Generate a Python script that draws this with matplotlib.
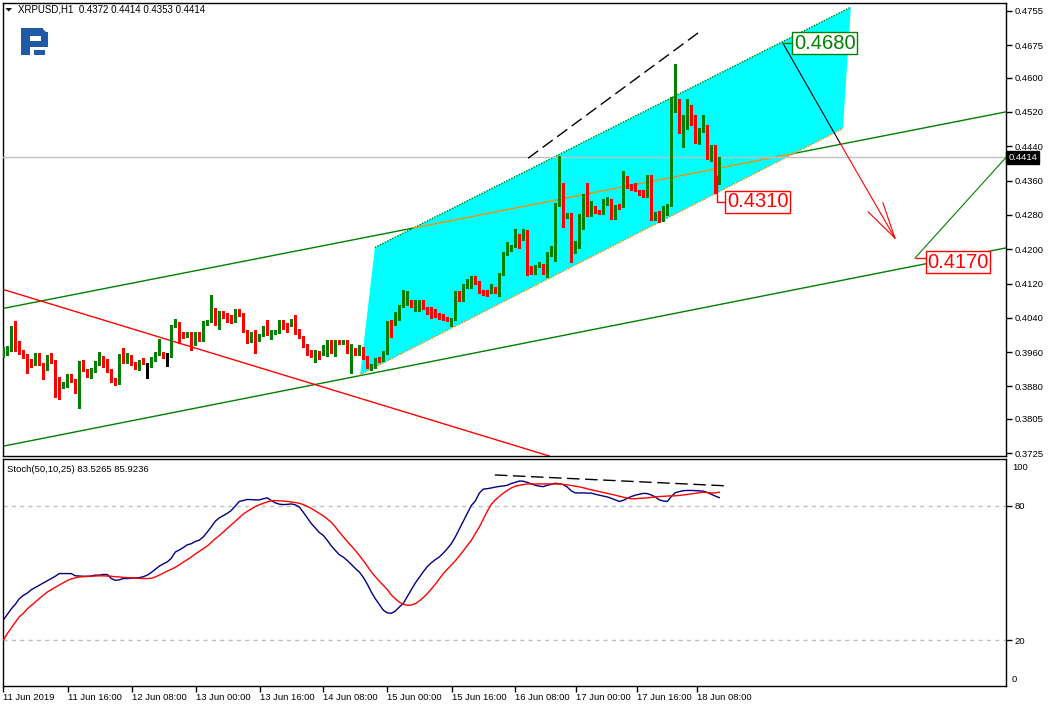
import matplotlib
matplotlib.use("Agg")
import matplotlib.pyplot as plt
from matplotlib.patches import Polygon, Rectangle
from matplotlib.transforms import blended_transform_factory
import numpy as np

plt.rcParams['font.family'] = ['Liberation Sans', 'DejaVu Sans']

# ---------------- data (H1 bars, index 0 = 11 Jun 2019 00:00) ----------------
opens = [0.3951, 0.3956, 0.3965, 0.4017, 0.3984, 0.3963, 0.3951, 0.3940, 0.3931, 0.3956,
         0.3932, 0.3921, 0.3949, 0.3938, 0.3899, 0.3880, 0.3882, 0.3898, 0.3894, 0.3868,
         0.3936, 0.3917, 0.3905, 0.3917, 0.3934, 0.3948, 0.3940, 0.3917, 0.3897, 0.3889,
         0.3951, 0.3938, 0.3951, 0.3934, 0.3922, 0.3944, 0.3932, 0.3929, 0.3943, 0.3957,
         0.3957, 0.3951, 0.3951, 0.4021, 0.4026, 0.4004, 0.3998, 0.4005, 0.3979, 0.4004,
         0.3988, 0.4027, 0.4033, 0.4061, 0.4043, 0.4054, 0.4048, 0.4043, 0.4033, 0.4057,
         0.4048, 0.4009, 0.3986, 0.4008, 0.3990, 0.4000, 0.4017, 0.4002, 0.4006, 0.4008,
         0.4033, 0.4025, 0.4025, 0.4035, 0.4010, 0.3995, 0.3975, 0.3961, 0.3951, 0.3959,
         0.3956, 0.3961, 0.3985, 0.3961, 0.3985, 0.3981, 0.3985, 0.3957, 0.3967, 0.3957,
         0.3969, 0.3947, 0.3921, 0.3926, 0.3945, 0.3942, 0.3959, 0.4031, 0.4027, 0.4039,
         0.4068, 0.4074, 0.4079, 0.4058, 0.4058, 0.4079, 0.4062, 0.4062, 0.4058, 0.4048,
         0.4045, 0.4040, 0.4031, 0.4037, 0.4099, 0.4083, 0.4113, 0.4113, 0.4131, 0.4123,
         0.4103, 0.4101, 0.4100, 0.4109, 0.4103, 0.4142, 0.4190, 0.4198, 0.4207, 0.4233,
         0.4224, 0.4233, 0.4158, 0.4145, 0.4161, 0.4163, 0.4147, 0.4188, 0.4193, 0.4304,
         0.4352, 0.4276, 0.4282, 0.4194, 0.4217, 0.4279, 0.4325, 0.4281, 0.4298, 0.4289,
         0.4284, 0.4307, 0.4313, 0.4274, 0.4302, 0.4302, 0.4367, 0.4350, 0.4344, 0.4336,
         0.4334, 0.4325, 0.4369, 0.4277, 0.4285, 0.4277, 0.4291, 0.4303, 0.4531, 0.4548,
         0.4497, 0.4484, 0.4534, 0.4492, 0.4448, 0.4476, 0.4487, 0.4409, 0.4440, 0.4372]
highs = [0.3973, 0.3975, 0.4020, 0.4033, 0.3987, 0.3966, 0.3955, 0.3945, 0.3959, 0.3959,
         0.3935, 0.3953, 0.3959, 0.3941, 0.3903, 0.3890, 0.3910, 0.3909, 0.3897, 0.3940,
         0.3941, 0.3921, 0.3923, 0.3940, 0.3961, 0.3951, 0.3943, 0.3920, 0.3900, 0.3955,
         0.3969, 0.3959, 0.3954, 0.3937, 0.3941, 0.3947, 0.3935, 0.3949, 0.3960, 0.3990,
         0.3960, 0.3957, 0.4024, 0.4037, 0.4030, 0.4007, 0.4007, 0.4008, 0.4007, 0.4007,
         0.4032, 0.4036, 0.4093, 0.4064, 0.4057, 0.4057, 0.4051, 0.4046, 0.4060, 0.4060,
         0.4051, 0.4012, 0.4008, 0.4011, 0.4003, 0.4020, 0.4036, 0.4011, 0.4011, 0.4036,
         0.4036, 0.4028, 0.4038, 0.4047, 0.4013, 0.3998, 0.3978, 0.3964, 0.3964, 0.3962,
         0.3977, 0.3988, 0.3988, 0.3988, 0.3988, 0.3988, 0.3988, 0.3980, 0.3970, 0.3976,
         0.3972, 0.3950, 0.3932, 0.3946, 0.3948, 0.3962, 0.4032, 0.4034, 0.4054, 0.4071,
         0.4106, 0.4102, 0.4082, 0.4082, 0.4082, 0.4082, 0.4065, 0.4065, 0.4061, 0.4051,
         0.4048, 0.4043, 0.4040, 0.4102, 0.4102, 0.4119, 0.4130, 0.4137, 0.4138, 0.4126,
         0.4106, 0.4104, 0.4118, 0.4112, 0.4145, 0.4193, 0.4217, 0.4210, 0.4246, 0.4236,
         0.4246, 0.4245, 0.4161, 0.4164, 0.4170, 0.4166, 0.4193, 0.4208, 0.4307, 0.4417,
         0.4355, 0.4285, 0.4285, 0.4220, 0.4282, 0.4328, 0.4355, 0.4313, 0.4301, 0.4292,
         0.4316, 0.4322, 0.4316, 0.4302, 0.4305, 0.4381, 0.4370, 0.4353, 0.4355, 0.4339,
         0.4337, 0.4372, 0.4372, 0.4286, 0.4288, 0.4300, 0.4306, 0.4555, 0.4631, 0.4551,
         0.4513, 0.4549, 0.4537, 0.4513, 0.4482, 0.4513, 0.4490, 0.4442, 0.4443, 0.4414]
lows = [0.3948, 0.3953, 0.3962, 0.3963, 0.3955, 0.3946, 0.3911, 0.3926, 0.3929, 0.3929,
        0.3897, 0.3918, 0.3935, 0.3856, 0.3852, 0.3876, 0.3879, 0.3890, 0.3865, 0.3829,
        0.3915, 0.3902, 0.3900, 0.3914, 0.3931, 0.3925, 0.3914, 0.3891, 0.3884, 0.3886,
        0.3935, 0.3935, 0.3929, 0.3920, 0.3919, 0.3932, 0.3899, 0.3926, 0.3940, 0.3954,
        0.3947, 0.3928, 0.3948, 0.4018, 0.3981, 0.3993, 0.3995, 0.3964, 0.3976, 0.3987,
        0.3985, 0.4024, 0.4030, 0.4023, 0.4014, 0.4040, 0.4030, 0.4028, 0.4030, 0.4045,
        0.4006, 0.3982, 0.3983, 0.3959, 0.3987, 0.3997, 0.3999, 0.3990, 0.4003, 0.4005,
        0.4014, 0.4006, 0.4022, 0.4003, 0.3992, 0.3972, 0.3953, 0.3948, 0.3938, 0.3945,
        0.3953, 0.3950, 0.3958, 0.3950, 0.3978, 0.3978, 0.3957, 0.3911, 0.3954, 0.3954,
        0.3944, 0.3922, 0.3918, 0.3923, 0.3937, 0.3939, 0.3956, 0.3996, 0.4024, 0.4036,
        0.4065, 0.4071, 0.4065, 0.4055, 0.4055, 0.4060, 0.4050, 0.4040, 0.4042, 0.4038,
        0.4036, 0.4032, 0.4022, 0.4034, 0.4080, 0.4080, 0.4110, 0.4110, 0.4119, 0.4099,
        0.4094, 0.4092, 0.4097, 0.4099, 0.4090, 0.4139, 0.4187, 0.4195, 0.4204, 0.4202,
        0.4221, 0.4140, 0.4141, 0.4142, 0.4158, 0.4141, 0.4136, 0.4185, 0.4173, 0.4301,
        0.4252, 0.4273, 0.4171, 0.4191, 0.4203, 0.4247, 0.4277, 0.4278, 0.4284, 0.4283,
        0.4281, 0.4304, 0.4271, 0.4271, 0.4294, 0.4299, 0.4343, 0.4338, 0.4335, 0.4327,
        0.4322, 0.4322, 0.4268, 0.4268, 0.4263, 0.4265, 0.4280, 0.4300, 0.4520, 0.4470,
        0.4437, 0.4481, 0.4490, 0.4448, 0.4445, 0.4473, 0.4409, 0.4406, 0.4332, 0.4353]
closes = [0.3967, 0.3969, 0.4017, 0.3979, 0.3959, 0.3950, 0.3942, 0.3931, 0.3956, 0.3932,
          0.3920, 0.3949, 0.3938, 0.3899, 0.3877, 0.3884, 0.3894, 0.3893, 0.3868, 0.3936,
          0.3918, 0.3905, 0.3920, 0.3936, 0.3946, 0.3928, 0.3917, 0.3894, 0.3889, 0.3951,
          0.3938, 0.3956, 0.3932, 0.3925, 0.3938, 0.3935, 0.3932, 0.3946, 0.3957, 0.3963,
          0.3950, 0.3951, 0.4021, 0.4026, 0.4004, 0.3996, 0.4004, 0.3977, 0.4004, 0.3990,
          0.4029, 0.4033, 0.4064, 0.4026, 0.4054, 0.4043, 0.4033, 0.4031, 0.4057, 0.4048,
          0.4009, 0.3985, 0.4005, 0.3988, 0.4000, 0.4017, 0.4002, 0.4008, 0.4008, 0.4033,
          0.4017, 0.4019, 0.4035, 0.4006, 0.3995, 0.3975, 0.3956, 0.3951, 0.3961, 0.3956,
          0.3974, 0.3985, 0.3961, 0.3985, 0.3981, 0.3985, 0.3960, 0.3967, 0.3957, 0.3973,
          0.3947, 0.3925, 0.3929, 0.3943, 0.3940, 0.3959, 0.4029, 0.4025, 0.4039, 0.4068,
          0.4075, 0.4083, 0.4068, 0.4079, 0.4079, 0.4063, 0.4060, 0.4058, 0.4045, 0.4041,
          0.4039, 0.4035, 0.4037, 0.4099, 0.4083, 0.4116, 0.4118, 0.4134, 0.4122, 0.4102,
          0.4097, 0.4099, 0.4109, 0.4102, 0.4142, 0.4190, 0.4202, 0.4207, 0.4233, 0.4224,
          0.4235, 0.4155, 0.4144, 0.4161, 0.4167, 0.4144, 0.4190, 0.4193, 0.4304, 0.4352,
          0.4303, 0.4282, 0.4194, 0.4217, 0.4279, 0.4325, 0.4280, 0.4296, 0.4287, 0.4286,
          0.4313, 0.4313, 0.4274, 0.4299, 0.4297, 0.4365, 0.4346, 0.4341, 0.4338, 0.4330,
          0.4325, 0.4369, 0.4276, 0.4283, 0.4279, 0.4291, 0.4303, 0.4534, 0.4549, 0.4497,
          0.4510, 0.4536, 0.4493, 0.4451, 0.4479, 0.4487, 0.4412, 0.4439, 0.4371, 0.4414]

stoch_main = [29.0, 31.5, 34.0, 36.0, 38.5, 40.0, 41.0, 42.5, 43.5, 44.5,
              45.5, 46.5, 47.5, 48.5, 49.7, 49.7, 49.7, 49.7, 48.7, 48.6,
              48.5, 48.5, 48.6, 49.0, 49.0, 49.3, 49.3, 47.5, 46.7, 46.9,
              47.5, 47.5, 47.6, 47.8, 47.9, 48.3, 49.0, 50.2, 51.6, 53.0,
              54.0, 54.9, 56.5, 59.3, 60.2, 61.3, 62.5, 63.0, 64.0, 64.6,
              66.0, 68.2, 70.5, 73.0, 74.5, 75.5, 76.5, 77.8, 79.8, 81.8,
              82.2, 82.7, 82.6, 82.5, 82.5, 83.0, 83.4, 82.2, 81.2, 80.6,
              80.4, 80.5, 80.7, 80.3, 79.3, 77.0, 74.5, 72.0, 70.0, 68.0,
              66.7, 64.5, 62.0, 60.0, 58.1, 57.0, 55.5, 53.8, 52.0, 50.4,
              48.0, 45.0, 41.5, 38.5, 36.0, 33.4, 32.2, 32.0, 33.0, 34.8,
              36.4, 39.5, 42.5, 45.5, 48.0, 50.5, 52.8, 54.5, 55.9, 57.1,
              58.8, 60.8, 63.0, 66.0, 69.5, 73.0, 76.5, 80.0, 82.0, 85.5,
              87.3, 87.5, 87.8, 88.2, 88.5, 88.7, 89.0, 89.8, 90.3, 90.9,
              90.8, 90.3, 89.6, 89.0, 88.6, 88.4, 89.0, 89.4, 89.9, 89.6,
              89.3, 88.2, 86.5, 85.6, 85.6, 85.6, 85.5, 85.5, 85.0, 84.6,
              84.2, 83.8, 83.2, 82.5, 81.8, 82.3, 83.2, 84.0, 84.6, 85.0,
              85.4, 85.3, 84.7, 83.8, 82.5, 82.0, 81.8, 84.0, 85.7, 86.2,
              86.6, 86.7, 86.7, 86.6, 86.5, 86.4, 85.8, 85.0, 84.2, 83.5]
stoch_signal = [20.0, 23.0, 25.5, 28.0, 30.5, 32.0, 34.0, 35.5, 37.0, 38.6,
                40.0, 41.5, 42.5, 43.6, 44.6, 45.6, 46.6, 47.3, 47.8, 48.2,
                48.3, 48.4, 48.5, 48.6, 48.7, 48.7, 48.6, 48.5, 48.3, 48.2,
                48.0, 47.9, 47.8, 47.7, 47.6, 47.5, 47.5, 47.6, 48.2, 49.0,
                49.9, 50.8, 51.6, 52.5, 53.6, 54.8, 55.9, 57.1, 58.4, 59.6,
                60.8, 62.0, 63.6, 65.2, 66.6, 68.2, 69.8, 71.4, 73.0, 74.6,
                76.2, 77.4, 78.5, 79.5, 80.3, 81.0, 81.6, 82.1, 82.2, 82.1,
                82.0, 81.8, 81.6, 81.3, 81.0, 80.4, 79.6, 78.7, 77.6, 76.5,
                75.4, 74.0, 72.5, 70.5, 68.2, 66.0, 64.0, 62.0, 60.0, 57.8,
                55.5, 53.0, 50.5, 48.3, 46.3, 44.5, 42.6, 40.2, 38.5, 37.0,
                36.0, 35.6, 35.7, 36.3, 37.5, 39.0, 40.8, 42.8, 45.0, 47.3,
                49.7, 51.6, 53.5, 55.4, 57.6, 59.8, 62.2, 64.5, 67.5, 70.4,
                74.0, 77.5, 80.5, 82.5, 84.0, 85.5, 86.7, 87.8, 88.6, 89.0,
                89.3, 89.6, 89.6, 89.6, 89.6, 89.6, 89.6, 89.6, 89.6, 89.6,
                89.4, 89.2, 88.9, 88.6, 88.3, 87.9, 87.4, 87.0, 86.6, 86.2,
                85.8, 85.4, 85.0, 84.6, 84.1, 83.7, 83.3, 83.0, 83.0, 83.2,
                83.3, 83.4, 83.6, 83.8, 84.0, 84.1, 84.2, 84.3, 84.3, 84.5,
                84.7, 84.9, 85.2, 85.4, 85.7, 85.9, 85.8, 85.6, 85.6, 85.9]

time_ticks = [0, 16.1, 32.1, 48.1, 64.1, 80, 96, 112.1, 128, 143.1, 158.35, 173.5]
time_labels = ["11 Jun 2019", "11 Jun 16:00", "12 Jun 08:00", "13 Jun 00:00",
               "13 Jun 16:00", "14 Jun 08:00", "15 Jun 00:00", "15 Jun 16:00",
               "16 Jun 08:00", "17 Jun 00:00", "17 Jun 16:00", "18 Jun 08:00"]
price_ticks = [0.4755, 0.4675, 0.4600, 0.4520, 0.4440, 0.4360, 0.4280,
               0.4200, 0.4120, 0.4040, 0.3960, 0.3880, 0.3805, 0.3725]
last_price = 0.4414

# drawn objects (bar index, price)
green_upper = [(0, 0.4062), (250.7, 0.4520)]
green_lower = [(0, 0.3741), (250.7, 0.4203)]
red_down = [(0, 0.4106), (136.5, 0.3718)]
chan_top = [(92.9, 0.4204), (211.9, 0.4764)]
chan_bot = [(89.2, 0.3907), (209.9, 0.4481)]
black_dash = [(131.2, 0.4412), (173.7, 0.4704)]
black_solid = [(194.9, 0.4680), (209.2, 0.4447)]
red_arrow = [(209.2, 0.4447), (222.9, 0.4226)]
arrow_heads = [(216.2, 0.4287), (219.9, 0.4308)]
green_short = [(227.9, 0.4179), (250.7, 0.4414)]
stoch_dash = [(122.9, 93.6), (181.3, 88.7)]

# --------------------------------- figure ---------------------------------
W, H, DPI = 1049, 707, 100
fig = plt.figure(figsize=(W / DPI, H / DPI), dpi=DPI, facecolor='white')


def fx(px):
    return px / W


def fy(py):
    return 1 - py / H


ax = fig.add_axes([fx(3), fy(456), fx(1006) - fx(3), fy(3) - fy(456)])
ax2 = fig.add_axes([fx(3), fy(686), fx(1006) - fx(3), fy(459) - fy(686)])

XMIN, XMAX = -0.075, 250.675
ax.set_xlim(XMIN, XMAX)
ax.set_ylim(0.371804, 0.477364)
ax2.set_xlim(XMIN, XMAX)
ax2.set_ylim(-0.35, 100.7)

for a in (ax, ax2):
    for s in a.spines.values():
        s.set_linewidth(1.0)
        s.set_color('black')

GREEN = '#008000'
RED = '#ff0000'
ORANGE = '#ff8c00'
CYAN = '#00ffff'


def line(a, pts, **kw):
    (x0, y0), (x1, y1) = pts
    a.plot([x0, x1], [y0, y1], **kw)


def intersect(p, q):
    (x1, y1), (x2, y2) = p
    (x3, y3), (x4, y4) = q
    m1 = (y2 - y1) / (x2 - x1)
    m2 = (y4 - y3) / (x4 - x3)
    xi = (y3 - y1 + m1 * x1 - m2 * x3) / (m1 - m2)
    return xi, y1 + m1 * (xi - x1)


# trend lines behind the channel
line(ax, green_upper, color=GREEN, lw=1, zorder=1)
line(ax, green_lower, color=GREEN, lw=1, zorder=1)
line(ax, red_down, color=RED, lw=1, zorder=1)

# channel fill
ax.add_patch(Polygon([chan_top[0], chan_top[1], chan_bot[1], chan_bot[0]],
                     closed=True, fc=CYAN, ec='none', zorder=2))
line(ax, chan_top, color=GREEN, lw=1, ls=(0, (1, 1)), zorder=3)
line(ax, chan_bot, color=ORANGE, lw=1, ls=(0, (1, 1)), zorder=3)
# part of the upper green line seen through the fill
p_in = intersect(green_upper, chan_top)
p_out = intersect(green_upper, chan_bot)
line(ax, [p_in, p_out], color=ORANGE, lw=1, zorder=3)

# current price line
ax.axhline(last_price, color='#c0c0c0', lw=1, zorder=3)

# other objects
line(ax, black_dash, color='black', lw=1, ls=(0, (9, 4)), zorder=4)
line(ax, black_solid, color='black', lw=0.8, zorder=4)
line(ax, red_arrow, color=RED, lw=0.8, zorder=4)
for hp in arrow_heads:
    line(ax, [red_arrow[1], hp], color=RED, lw=0.8, zorder=4)
line(ax, green_short, color=GREEN, lw=0.8, zorder=4)

# candles
o = np.array(opens)
h = np.array(highs)
l = np.array(lows)
c = np.array(closes)
xs = np.arange(len(c))
cols = np.where(c > o, GREEN, np.where(c < o, RED, '#000000'))
ax.vlines(xs, l, h, colors=cols, lw=1, zorder=5, antialiased=False)
ax.bar(xs, np.maximum(np.abs(c - o), 0.00024), width=0.78,
       bottom=np.minimum(o, c), color=cols, lw=0, zorder=6, antialiased=False)

# price labels on objects
lab_font = dict(fontsize=14.5, family=['Liberation Sans', 'DejaVu Sans'])
ax.plot([178.4, 178.4, 180.9], [0.4371, 0.4310, 0.4310], color=RED, lw=1, zorder=7)
ax.text(180.9, 0.4310, "0.4310", color=RED, ha='left', va='center', zorder=8,
        bbox=dict(boxstyle='square,pad=0.08', fc='white', ec=RED, lw=1), **lab_font)
ax.plot([194.9, 197.7], [0.4680, 0.4680], color=GREEN, lw=1, zorder=7)
ax.text(197.7, 0.4680, "0.4680", color=GREEN, ha='left', va='center', zorder=8,
        bbox=dict(boxstyle='square,pad=0.08', fc='white', ec=GREEN, lw=1), **lab_font)
ax.plot([228.2, 231.0], [0.4179, 0.4179], color=RED, lw=1, zorder=7)
ax.text(231.0, 0.4170, "0.4170", color=RED, ha='left', va='center', zorder=8,
        bbox=dict(boxstyle='square,pad=0.08', fc='white', ec=RED, lw=1), **lab_font)

# axes ticks (main)
ax.set_xticks([])
ax.yaxis.tick_right()
ax.set_yticks(price_ticks)
ax.set_yticklabels([f"{p:.4f}" for p in price_ticks])
ax.tick_params(axis='y', direction='out', length=4, width=1, pad=2,
               labelsize=6.8, colors='black')
trans = blended_transform_factory(ax.transAxes, ax.transData)
ax.text(1.0025, last_price, f"{last_price:.4f}", transform=trans, color='white',
        fontsize=6.8, ha='left', va='center', zorder=10, clip_on=False,
        bbox=dict(boxstyle='square,pad=0.22', fc='black', ec='black'))

# stochastic panel
ax2.axhline(80, color='#c0c0c0', lw=1, ls=(0, (3, 3)))
ax2.axhline(20, color='#c0c0c0', lw=1, ls=(0, (3, 3)))
sx = np.arange(len(stoch_main))
ax2.plot(sx, stoch_main, color='#000080', lw=1, zorder=3)
ax2.plot(sx, stoch_signal, color=RED, lw=1, zorder=3)
line(ax2, stoch_dash, color='black', lw=1, ls=(0, (9, 4)), zorder=4)
ax2.yaxis.tick_right()
ax2.set_yticks([80, 20])
ax2.set_yticklabels(['80', '20'])
ax2.tick_params(axis='y', direction='out', length=4, width=1, pad=2,
                labelsize=6.8, colors='black')
fig.text(fx(1012), fy(467.5), "100", fontsize=6.8, va='center', ha='left')
fig.text(fx(1012), fy(679), "0", fontsize=6.8, va='center', ha='left')

ax2.set_xticks(time_ticks)
ax2.set_xticklabels(time_labels)
ax2.tick_params(axis='x', direction='out', length=4, width=1, pad=1,
                labelsize=6.8, colors='black')
for t in ax2.get_xticklabels():
    t.set_ha('left')

fig.text(fx(7), fy(469), "Stoch(50,10,25) 83.5265 85.9236", fontsize=6.8,
         va='center', ha='left')

# header
fig.patches.append(Polygon([(fx(5.5), fy(8)), (fx(12), fy(8)), (fx(8.7), fy(11.5))],
                           closed=True, transform=fig.transFigure, fc='black', ec='none'))
fig.text(fx(18), fy(10), "XRPUSD,H1  0.4372 0.4414 0.4353 0.4414", fontsize=7,
         va='center', ha='left')

# logo
LOGO = '#1e5aa6'


def rect_px(x0, y0, x1, y1):
    fig.patches.append(Rectangle((fx(x0), fy(y1)), fx(x1) - fx(x0), fy(y0) - fy(y1),
                                 transform=fig.transFigure, fc=LOGO, ec='none'))


rect_px(20.7, 28.3, 29.5, 55)
rect_px(20.7, 28.3, 43, 36)
rect_px(40.5, 32, 48.3, 46.7)
rect_px(29.5, 41, 48.3, 46.7)
rect_px(33.5, 49.5, 45, 55)
fig.patches.append(Polygon([(fx(42), fy(28.3)), (fx(48.3), fy(34)), (fx(40.5), fy(34))],
                           closed=True, transform=fig.transFigure, fc=LOGO, ec='none'))

fig.savefig("out.png", dpi=DPI, facecolor='white')
